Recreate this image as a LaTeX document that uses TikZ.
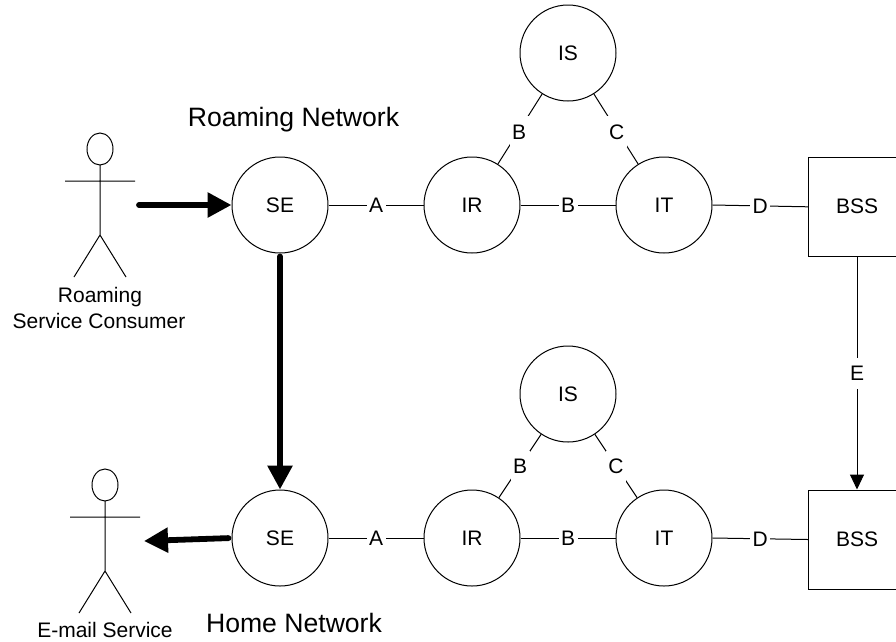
\documentclass[tikz,border=0pt]{standalone}
\usepackage{fontspec}
\setmainfont{Liberation Sans}
\usetikzlibrary{arrows.meta}
\tikzset{
  x=1pt,y=-1pt,
  txt/.style={font=\fontsize{21}{24}\selectfont,inner sep=0pt},
  big/.style={font=\fontsize{26.6}{30}\selectfont,inner sep=0pt},
  hub/.style={draw,circle,minimum size=96pt,inner sep=0pt,line width=1pt,font=\fontsize{21}{24}\selectfont},
  sta/.style={draw,rectangle,minimum width=97pt,minimum height=99pt,inner sep=0pt,line width=1pt,font=\fontsize{21}{24}\selectfont},
  link/.style={line width=1pt},
  lab/.style={fill=white,font=\fontsize{21}{24}\selectfont,inner xsep=2.5pt,inner ysep=8pt,text height=15pt,text depth=0pt},
  bold/.style={line width=5.8pt,line cap=round,shorten <=3pt,-{Triangle[length=24pt,width=24pt]}},
  thinarrow/.style={link,-{Triangle[length=15pt,width=14pt]}},
  stick/.style={line width=1pt}
}
\begin{document}
\begin{tikzpicture}
\clip (0,0) rectangle (896,641);
\fill[white] (0,0) rectangle (896,641);
% upper row
\node[hub] (se1) at (280,205) {SE};
\node[hub] (ir1) at (472,205) {IR};
\node[hub] (it1) at (664,205) {IT};
\node[hub] (is1) at (568,53) {IS};
\node[sta] (bss1) at (857,206.8) {\raisebox{1.5pt}{BSS}};
% lower row
\node[hub] (se2) at (280,538) {SE};
\node[hub] (ir2) at (472,538) {IR};
\node[hub] (it2) at (664,538) {IT};
\node[hub] (is2) at (568,394) {IS};
\node[sta] (bss2) at (857,539.5) {\raisebox{1.5pt}{BSS}};
% links
\draw[link] (se1) -- node[lab] {A} (ir1);
\draw[link] (ir1) -- node[lab] {B} (it1);
\draw[link] (is1) -- node[lab,pos=.54,xshift=1pt] {B} (ir1);
\draw[link] (is1) -- node[lab,pos=.54,xshift=-1pt] {C} (it1);
\draw[link] (it1.east) -- node[lab] {D} (bss1.west);
\draw[link] (se2) -- node[lab] {A} (ir2);
\draw[link] (ir2) -- node[lab] {B} (it2);
\draw[link] (is2) -- node[lab] {B} (ir2);
\draw[link] (is2) -- node[lab] {C} (it2);
\draw[link] (it2.east) -- node[lab] {D} (bss2.west);
\draw[thinarrow] (bss1.south) -- node[lab] {E} (bss2.north);
% actors
\draw[stick] (100,149) ellipse [x radius=13,y radius=16];
\draw[stick] (100,165) -- (100,235) (65,181) -- (135,181) (74,277) -- (100,235) -- (126,277);
\draw[stick] (105,485) ellipse [x radius=13,y radius=16];
\draw[stick] (105,501) -- (105,571) (70,517) -- (140,517) (79,613) -- (105,571) -- (131,613);
% heavy arrows
\coordinate (a1) at (136,205);
\coordinate (a2) at (144,541);
\draw[bold] (a1) -- (se1.west);
\draw[bold] (se1.south) -- (se2.north);
\draw[bold] (se2.west) -- (a2);
% texts
\node[big] (t1) at (293.5,120) {Roaming Network};
\node[big] (t2) at (294,623) {Home Network};
\node[txt] (t3) at (100,297) {Roaming};
\node[txt] (t4) at (99,321) {Service Consumer};
\node[txt] (t5) at (105,629.5) {E-mail Service};
\end{tikzpicture}
\end{document}
